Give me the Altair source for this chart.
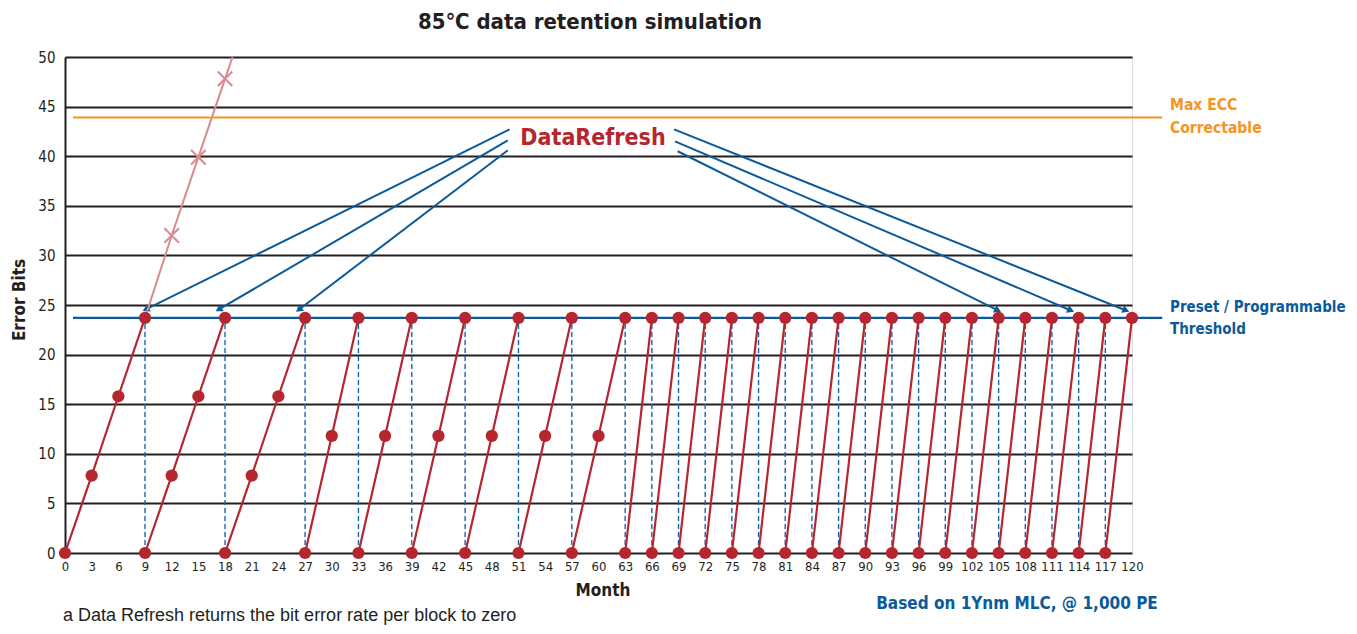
import math
import altair as alt
import pandas as pd

# ---------------- data ----------------
seg_months = [
    [0, 3, 6, 9], [9, 12, 15, 18], [18, 21, 24, 27],
    [27, 30, 33], [33, 36, 39], [39, 42, 45], [45, 48, 51], [51, 54, 57], [57, 60, 63],
    [63, 66], [66, 69], [69, 72], [72, 75], [75, 78], [78, 81], [81, 84], [84, 87],
    [87, 90], [90, 93], [93, 96], [96, 99], [99, 102], [102, 105], [105, 108],
    [108, 111], [111, 114], [114, 117], [117, 120],
]
seg_bits = [
    [0, 7.8, 15.8, 23.7], [0, 7.8, 15.8, 23.7], [0, 7.8, 15.8, 23.7],
    [0, 11.8, 23.7], [0, 11.8, 23.7], [0, 11.8, 23.7], [0, 11.8, 23.7], [0, 11.8, 23.7], [0, 11.8, 23.7],
    [0, 23.7], [0, 23.7], [0, 23.7], [0, 23.7], [0, 23.7], [0, 23.7], [0, 23.7], [0, 23.7],
    [0, 23.7], [0, 23.7], [0, 23.7], [0, 23.7], [0, 23.7], [0, 23.7], [0, 23.7],
    [0, 23.7], [0, 23.7], [0, 23.7], [0, 23.7],
]
refresh_months = [9, 18, 27, 33, 39, 45, 51, 57, 63, 66, 69, 72, 75, 78, 81, 84, 87,
                  90, 93, 96, 99, 102, 105, 108, 111, 114, 117]
no_refresh_months = [9, 12, 15, 18, 21]
no_refresh_bits = [23.7, 32.0, 39.9, 47.8, 55.7]
no_refresh_marker_months = [12, 15, 18]
no_refresh_marker_bits = [32.0, 39.9, 47.8]

threshold = 23.7
max_ecc = 43.9
ref_line_start = 0.9
ref_line_end = 123.4

arrow_x_start = [50.0, 49.8, 49.8, 68.5, 68.6, 68.9]
arrow_y_start = [42.7, 41.6, 40.6, 42.7, 41.5, 40.5]
arrow_x_end = [9.2, 17.4, 26.4, 119.2, 113.0, 104.8]
arrow_y_end = [24.6, 24.6, 24.6, 24.5, 24.5, 24.5]

month_ticks = list(range(0, 121, 3))
bit_ticks = [0, 5, 10, 15, 20, 25, 30, 35, 40, 45, 50]

title_text = "85\u2103 data retention simulation"
y_title = "Error Bits"
x_title = "Month"
refresh_label = "DataRefresh"
ecc_label = ["Max ECC", "Correctable"]
threshold_label = ["Preset / Programmable", "Threshold"]
basis_note = "Based on 1Ynm MLC, @ 1,000 PE"
footnote = "a Data Refresh returns the bit error rate per block to zero"

# ---------------- style ----------------
W, H = 1067, 496
NARROW = "'Liberation Sans Narrow', 'DejaVu Sans Condensed', sans-serif"
REG = "'Liberation Sans', Arial, sans-serif"
RED = "#b5262e"
BLUE = "#0b5a9a"
ORANGE = "#f7941d"
PINK = "#d98a8f"
INK = "#231f20"

xscale = alt.Scale(domain=[0, 120], nice=False, zero=False)
yscale = alt.Scale(domain=[0, 50], nice=False)
xaxis = alt.Axis(values=month_ticks, title=None, grid=False, domain=False, ticks=False,
                 labelPadding=7, labelFontSize=13, labelFont=NARROW, labelColor=INK,
                 labelFlush=False)
yaxis = alt.Axis(values=bit_ticks, title=None, grid=True, gridColor=INK, gridWidth=2,
                 domain=True, domainColor=INK, domainWidth=2, ticks=False,
                 labelPadding=10, labelFontSize=15, labelFont=NARROW, labelColor=INK)


def X(f="month"):
    return alt.X(f"{f}:Q", scale=xscale, axis=xaxis)


def Y(f="bits"):
    return alt.Y(f"{f}:Q", scale=yscale, axis=yaxis)


# ---------------- tables ----------------
rows = []
for i, (ms, bs) in enumerate(zip(seg_months, seg_bits)):
    for m, b in zip(ms, bs):
        rows.append({"seg": i, "month": m, "bits": b})
saw = pd.DataFrame(rows)

refl = pd.DataFrame({"month": [ref_line_start, ref_line_start],
                     "month2": [ref_line_end, ref_line_end],
                     "bits": [max_ecc, threshold],
                     "kind": ["ecc", "thr"]})
dash = pd.DataFrame({"month": refresh_months, "bits": [0] * len(refresh_months),
                     "bits2": [threshold] * len(refresh_months)})
pink = pd.DataFrame({"month": no_refresh_months, "bits": no_refresh_bits})
pinkm = pd.DataFrame({"month": no_refresh_marker_months, "bits": no_refresh_marker_bits})

sx, sy = W / 120.0, H / 50.0
angles = []
for xs, ys, xe, ye in zip(arrow_x_start, arrow_y_start, arrow_x_end, arrow_y_end):
    dx = (xe - xs) * sx
    dy = -(ye - ys) * sy
    angles.append(math.degrees(math.atan2(dx, -dy)) % 360)
arrows = pd.DataFrame({"month": arrow_x_start, "bits": arrow_y_start,
                       "month2": arrow_x_end, "bits2": arrow_y_end})
heads = pd.DataFrame({"month": arrow_x_end, "bits": arrow_y_end, "ang": angles})

# ---------------- layers ----------------
ref_lines = alt.Chart(refl).mark_rule(strokeWidth=2.2).encode(
    x=X(), x2="month2:Q", y=Y(),
    color=alt.Color("kind:N", scale=alt.Scale(domain=["ecc", "thr"], range=[ORANGE, BLUE]), legend=None),
)
dashes = alt.Chart(dash).mark_rule(color="#1b63a5", strokeWidth=1.4, strokeDash=[5, 3]).encode(
    x=X(), y=Y(), y2="bits2:Q")
arrow_lines = alt.Chart(arrows).mark_rule(color=BLUE, strokeWidth=2).encode(
    x=X(), y=Y(), x2="month2:Q", y2="bits2:Q")
arrow_heads = alt.Chart(heads).mark_point(shape="triangle", filled=True, color=BLUE, size=65, opacity=1).encode(
    x=X(), y=Y(), angle=alt.Angle("ang:Q", scale=None))
pink_line = alt.Chart(pink).mark_line(color=PINK, strokeWidth=2, clip=True).encode(x=X(), y=Y())
pink_marks = alt.Chart(pinkm).mark_point(shape="M-1,-1L1,1M-1,1L1,-1", filled=False, color=PINK,
                                         strokeWidth=2, size=210, opacity=1).encode(x=X(), y=Y())
saw_lines = alt.Chart(saw).mark_line(color=RED, strokeWidth=2.2).encode(
    x=X(), y=Y(), detail="seg:N", order="month:Q")
saw_dots = alt.Chart(saw).mark_circle(color=RED, size=150, opacity=1).encode(x=X(), y=Y())


def txt(text, x, y, size, color=INK, font=NARROW, weight="bold", align="center", angle=0):
    kw = dict(fontSize=size, color=color, font=font, fontWeight=weight, align=align, baseline="middle")
    if angle:
        kw["angle"] = angle
    return alt.Chart(pd.DataFrame({"t": [text]})).mark_text(**kw).encode(
        text="t:N", x=alt.value(x), y=alt.value(y))


texts = [
    txt(title_text, 525, -35, 22),
    txt(y_title, -45, 243, 17, angle=270),
    txt(x_title, 538, 534, 17),
    txt(footnote, -2, 559, 18, font=REG, weight="normal", align="left"),
    txt(basis_note, 952, 547, 17, color=BLUE),
    txt(refresh_label, 528, 81, 23, color=RED),
    txt(ecc_label[0], 1105, 48, 15.5, color=ORANGE, align="left"),
    txt(ecc_label[1], 1105, 71, 15.5, color=ORANGE, align="left"),
    txt(threshold_label[0], 1105, 250, 15, color=BLUE, align="left"),
    txt(threshold_label[1], 1105, 272, 15, color=BLUE, align="left"),
]

chart = alt.layer(
    ref_lines, dashes, arrow_lines, arrow_heads, pink_line, pink_marks, saw_lines, saw_dots, *texts
).properties(
    width=W, height=H,
    padding={"left": 57, "top": 49, "right": 217, "bottom": 73},
    autosize=alt.AutoSizeParams(type="none"),
).configure_view(stroke=None).configure(background="white")

chart.save("out.html", embed_options={"renderer": "svg", "actions": False})
